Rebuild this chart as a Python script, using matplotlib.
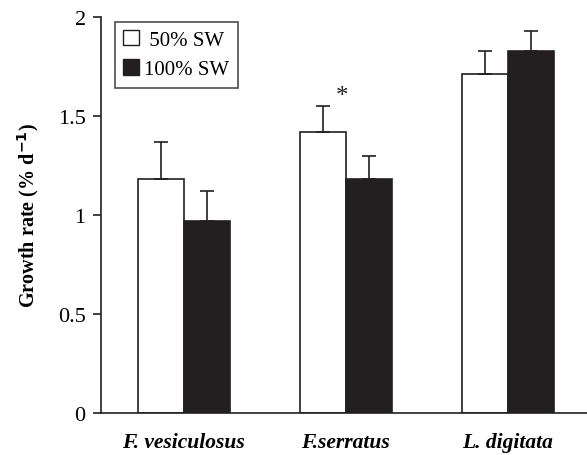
import numpy as np
import matplotlib
matplotlib.use('Agg')
import matplotlib.pyplot as plt
import matplotlib.patches as mpatches

###DATA###
species = ['F. vesiculosus', 'F.serratus', 'L. digitata']
rate_50 = [1.18, 1.42, 1.71]
err_50 = [0.19, 0.13, 0.12]
rate_100 = [0.97, 1.18, 1.83]
err_100 = [0.15, 0.12, 0.10]

plt.rcParams['font.family'] = ['Liberation Serif', 'DejaVu Serif']

fig = plt.figure(figsize=(5.87, 4.56), dpi=100)
ax = fig.add_axes([0.172, 0.092, 0.828, 0.8685])

x = np.arange(len(species))
w = 0.285

###BARS###
ax.bar(x - w/2, rate_50, w, color='white', edgecolor='#231f20', linewidth=1.2)
ax.bar(x + w/2, rate_100, w, color='#231f20', edgecolor='#231f20', linewidth=1.2)

###ERROR BARS (upper only)###
ax.errorbar(x - w/2, rate_50, yerr=[np.zeros(3), err_50], fmt='none',
            ecolor='#231f20', elinewidth=1.2, capsize=5, capthick=1.2)
ax.errorbar(x + w/2, rate_100, yerr=[np.zeros(3), err_100], fmt='none',
            ecolor='#231f20', elinewidth=1.2, capsize=5, capthick=1.2)

# significance mark
ax.text(0.98, 1.6, '*', ha='center', va='center', fontsize=18, color='#231f20')

###AXES###
ax.set_xlim(-0.512, 2.49)
ax.set_ylim(0, 2)
ax.set_yticks([0, 0.5, 1, 1.5, 2])
ax.set_yticklabels(['0', '0.5', '1', '1.5', '2'])
ax.set_xticks(x)
ax.set_xticklabels(species, fontsize=15.5, fontweight='bold', fontstyle='italic')
ax.tick_params(axis='x', length=0, pad=14)
ax.tick_params(axis='y', direction='out', length=6, width=1.2, labelsize=16, pad=5, color='#231f20')
for s in ['top', 'right']:
    ax.spines[s].set_visible(False)
for s in ['left', 'bottom']:
    ax.spines[s].set_linewidth(1.2)
    ax.spines[s].set_color('#231f20')
ax.set_ylabel('Growth rate (% d$^{\\mathbf{-1}}$)', fontsize=14.5, fontweight='bold', labelpad=12)

###LEGEND###
white = mpatches.Patch(facecolor='white', edgecolor='#231f20', label=' 50% SW')
black = mpatches.Patch(facecolor='#231f20', edgecolor='#231f20', label='100% SW')
leg = ax.legend(handles=[white, black], loc='upper left', bbox_to_anchor=(0.029, 0.988),
                fontsize=15, frameon=True, fancybox=False, handlelength=0.75, handleheight=0.75,
                handletextpad=0.25, borderpad=0.4, labelspacing=0.45, borderaxespad=0)
leg.get_frame().set_edgecolor('#231f20')
leg.get_frame().set_linewidth(1.2)

plt.savefig('out.png', dpi=100)
